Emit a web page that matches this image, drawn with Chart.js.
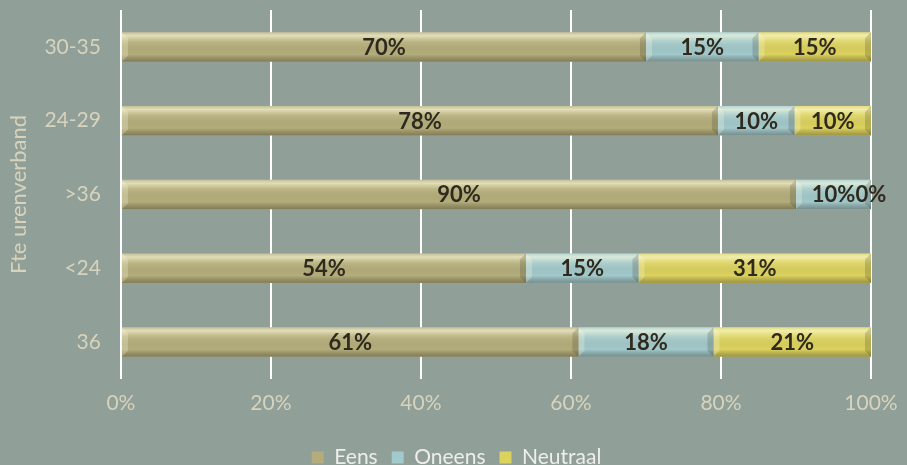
<!DOCTYPE html>
<html>
<head>
<meta charset="utf-8">
<script src="https://cdn.jsdelivr.net/npm/chart.js@4/dist/chart.umd.min.js"></script>
<style>
  html, body { margin: 0; padding: 0; background: #909f98; }
  #wrap { width: 907px; height: 465px; }
</style>
</head>
<body>
<div id="wrap"><canvas id="myChart"></canvas></div>
<script>
const categories = ['30-35', '24-29', '>36', '<24', '36'];
const eens = [70, 78, 90, 54, 61];
const oneens = [15, 10, 10, 15, 18];
const neutraal = [15, 10, 0, 31, 21];
const xTicks = ['0%', '20%', '40%', '60%', '80%', '100%'];

// 100% stacked: each row is scaled to its own total, labels keep the raw values
const totals = categories.map((c, i) => eens[i] + oneens[i] + neutraal[i]);
const share = arr => arr.map((v, i) => v / totals[i] * 100);

const font = 'Lato, "DejaVu Sans", sans-serif';

// bevel look + value labels on each bar
const barStyle = {
  id: 'barStyle',
  afterLayout(chart) {
    // legend sits a bit right of the plot centre and low in the original
    chart.legend.left += 18;
    chart.legend.right += 18;
    chart.legend.top += 5;
    chart.legend.bottom += 5;
  },
  afterDatasetsDraw(chart) {
    const c = chart.ctx;
    chart.data.datasets.forEach((ds, di) => {
      const meta = chart.getDatasetMeta(di);
      meta.data.forEach((bar, i) => {
        const left = Math.min(bar.base, bar.x), right = Math.max(bar.base, bar.x);
        const top = bar.y - bar.height / 2, h = bar.height;
        const w = right - left;
        if (w > 1) {
          c.save();
          let g = c.createLinearGradient(0, top, 0, top + h);
          g.addColorStop(0, 'rgba(255,255,240,0.2)');
          g.addColorStop(0.12, 'rgba(255,255,225,0.6)');
          g.addColorStop(0.3, 'rgba(255,255,225,0.15)');
          g.addColorStop(0.75, 'rgba(0,0,0,0)');
          g.addColorStop(1, 'rgba(40,35,20,0.35)');
          c.fillStyle = g;
          c.fillRect(left, top, w, h);
          // left bevel
          c.fillStyle = 'rgba(255,255,230,0.25)';
          c.beginPath();
          c.moveTo(left, top); c.lineTo(left + 6, top + 6); c.lineTo(left + 6, top + h - 6); c.lineTo(left, top + h);
          c.fill();
          // right bevel
          c.fillStyle = 'rgba(40,35,20,0.18)';
          c.beginPath();
          c.moveTo(right, top); c.lineTo(right - 6, top + 6); c.lineTo(right - 6, top + h - 6); c.lineTo(right, top + h);
          c.fill();
          c.restore();
        }
        c.save();
        c.font = 'bold 22px ' + font;
        c.fillStyle = '#2f2a1d';
        c.textAlign = 'center';
        c.textBaseline = 'middle';
        c.fillText(ds.raw[i] + '%', (left + right) / 2, bar.y + 1);
        c.restore();
      });
    });
  }
};

new Chart(document.getElementById('myChart'), {
  type: 'bar',
  data: {
    labels: categories,
    datasets: [
      { label: 'Eens', data: share(eens), raw: eens, backgroundColor: '#b4ad7b' },
      { label: 'Oneens', data: share(oneens), raw: oneens, backgroundColor: '#a2c9cb' },
      { label: 'Neutraal', data: share(neutraal), raw: neutraal, backgroundColor: '#dcd25e' }
    ]
  },
  options: {
    indexAxis: 'y',
    responsive: true,
    maintainAspectRatio: false,
    animation: false,
    layout: { padding: { top: 10, right: 36, left: 6, bottom: -8 } },
    datasets: { bar: { categoryPercentage: 1, barPercentage: 0.4, borderWidth: 0 } },
    scales: {
      x: {
        stacked: true,
        min: 0,
        max: 100,
        afterFit: s => { s.paddingLeft = 0; s.paddingRight = 0; },
        ticks: {
          stepSize: 20,
          color: '#d7d3bd',
          font: { family: font, size: 21 },
          padding: 12,
          callback: (v, i) => xTicks[i]
        },
        grid: { color: '#ffffff', lineWidth: 2, drawTicks: false },
        border: { display: false }
      },
      y: {
        stacked: true,
        afterFit: s => { s.paddingTop = 0; s.paddingBottom = 0; },
        ticks: {
          color: '#d7d3bd',
          font: { family: font, size: 21 },
          padding: 12
        },
        grid: { display: false },
        border: { display: false },
        title: {
          display: true,
          text: 'Fte urenverband',
          color: '#d7d3bd',
          font: { family: font, size: 22 },
          padding: { top: 0, bottom: 0 }
        }
      }
    },
    plugins: {
      legend: {
        position: 'bottom',
        labels: {
          color: '#eeeeea',
          font: { family: font, size: 21 },
          boxWidth: 12,
          boxHeight: 12,
          padding: 14
        }
      },
      tooltip: { enabled: false }
    }
  },
  plugins: [barStyle]
});
</script>
</body>
</html>
